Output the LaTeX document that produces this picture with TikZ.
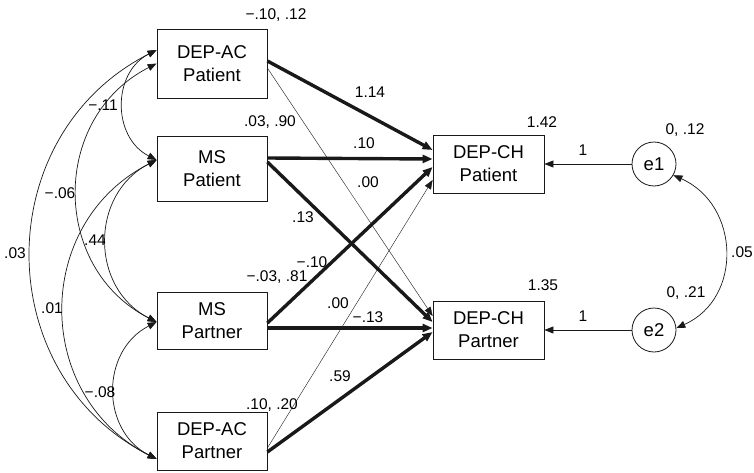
\documentclass[tikz,border=0pt]{standalone}
\usepackage{fontspec}
\setmainfont{Liberation Sans}
\setsansfont{Liberation Sans}
\usetikzlibrary{arrows.meta, calc, positioning}
\definecolor{linecol}{RGB}{25, 25, 25}
\tikzset{
  var/.style   = {draw=linecol, line width=0.8pt, minimum width=110pt,
                  inner sep=0pt, align=center,
                  font=\sffamily\fontsize{18.5}{23}\selectfont},
  err/.style   = {draw=linecol, line width=0.8pt, circle, minimum size=44pt,
                  inner sep=0pt, font=\sffamily\fontsize{18.5}{23}\selectfont},
  est/.style   = {font=\sffamily\fontsize{15.5}{18}\selectfont, inner sep=0pt},
  reg/.style   = {-{Triangle[length=10pt, width=8pt]}, draw=linecol,
                  line width=3.4pt},
  weak/.style  = {-{Triangle[length=9pt, width=7pt]}, draw=linecol,
                  line width=0.4pt},
  load/.style  = {-{Triangle[length=9pt, width=7pt]}, draw=linecol,
                  line width=0.8pt},
  % covariances are curved, both ends tipped
  cov/.style   = {{Triangle[length=9pt, width=7pt]}-{Triangle[length=9pt, width=7pt]},
                  draw=linecol, line width=0.7pt},
}

\begin{document}
\begin{tikzpicture}[x=1pt, y=1pt, font=\sffamily]
  \useasboundingbox (0,0) rectangle (754,472);

  %% ---------------- predictors ----------------
  \node[var, minimum height=69pt] (dacp) at (212,408.5) {DEP-AC\\Patient};
  \node[var, minimum height=65pt] (msp)  at (212,303.5) {MS\\Patient};
  \node[var, minimum height=57pt] (msq)  at (212,151.5) {MS\\Partner};
  \node[var, minimum height=58pt] (dacq) at (212,31)    {DEP-AC\\Partner};

  %% ---------------- outcomes and errors ----------------
  \node[var, minimum width=111pt, minimum height=58pt] (dchp) at (488.5,308)
       {DEP-CH\\Patient};
  \node[var, minimum width=111pt, minimum height=58pt] (dchq) at (488.5,142)
       {DEP-CH\\Partner};
  \node[err] (e1) at (654,308) {e1};
  \node[err] (e2) at (654,142) {e2};

  %% ---------------- paths ----------------
  \draw[reg]  ($(dacp.east)+(0,2.5)$)  -- ($(dchp.west)+(0,14)$);
  \draw[weak] ($(dacp.east)+(0,-4.5)$) -- ($(dchq.west)+(0,14)$);
  \draw[reg]  ($(msp.east)+(0,10.5)$)  -- ($(dchp.west)+(0,5)$);
  \draw[reg]  ($(msp.east)+(0,6.5)$)   -- ($(dchq.west)+(0,8)$);
  \draw[reg]  ($(msq.east)+(0,-2.5)$)  -- ($(dchp.west)+(0,-3)$);
  \draw[reg]  ($(msq.east)+(0,-7.5)$)  -- ($(dchq.west)+(0,2)$);
  \draw[weak] ($(dacq.east)+(0,-7)$)   -- ($(dchp.west)+(0,-16)$);
  \draw[reg]  ($(dacq.east)+(0,-11)$)  -- ($(dchq.west)+(0,-2)$);

  \draw[load] (e1.west) -- (dchp.east);
  \draw[load] (e2.west) -- (dchq.east);

  %% ---------------- covariances ----------------
  \draw[cov] ($(dacp.west)+(0,13.5)$) to[out=207, in=153, distance=188pt]
       ($(dacq.west)+(0,-18)$);
  \draw[cov] ($(dacp.west)+(0,13.5)$) to[out=207, in=153, distance=50pt]
       ($(msp.west)+(0,8.5)$);
  \draw[cov] (dacp.west) to[out=207, in=153, distance=119pt]
       ($(msq.west)+(0,-1.5)$);
  \draw[cov] ($(msp.west)+(0,8.5)$) to[out=207, in=153, distance=75pt]
       ($(msq.west)+(0,-1.5)$);
  \draw[cov] ($(msp.west)+(0,8.5)$) to[out=207, in=153, distance=139pt]
       ($(dacq.west)+(0,-18)$);
  \draw[cov] ($(msq.west)+(0,-1.5)$) to[out=207, in=153, distance=63pt]
       ($(dacq.west)+(0,-18)$);
  \draw[cov] (e1.-30) to[out=-24, in=24, distance=73pt] (e2.5);

  %% ---------------- estimates ----------------
  \node[est] (ip1) at (276,457) {−.10, .12};
  \node[est] (ip2) at (270,350) {.03, .90};
  \node[est] (ip3) at (277,195) {−.03, .81};
  \node[est] (ip4) at (272,67)  {.10, .20};
  \node[est] (r1)  at (542,350) {1.42};
  \node[est] (r2)  at (543,187) {1.35};
  \node[est] (ev1) at (685,342) {0, .12};
  \node[est] (ev2) at (686,179) {0, .21};
  \node[est] (ce)  at (742,220) {.05};
  \node[est] (f1)  at (583,322) {1};
  \node[est] (f2)  at (583,156) {1};

  \node[est] (b1) at (370,380) {1.14};
  \node[est] (b2) at (364,329) {.10};
  \node[est] (b3) at (368,290) {.00};
  \node[est] (b4) at (303,255) {.13};
  \node[est] (b5) at (312,210) {−.10};
  \node[est] (b6) at (338,169) {.00};
  \node[est] (b7) at (368,155) {−.13};
  \node[est] (b8) at (340,96)  {.59};

  \node[est] (c1) at (103,367) {−.11};
  \node[est] (c2) at (60,279)  {−.06};
  \node[est] (c3) at (95,232)  {.44};
  \node[est] (c4) at (15,219)  {.03};
  \node[est] (c5) at (52,164)  {.01};
  \node[est] (c6) at (100,80)  {−.08};

\end{tikzpicture}
\end{document}
